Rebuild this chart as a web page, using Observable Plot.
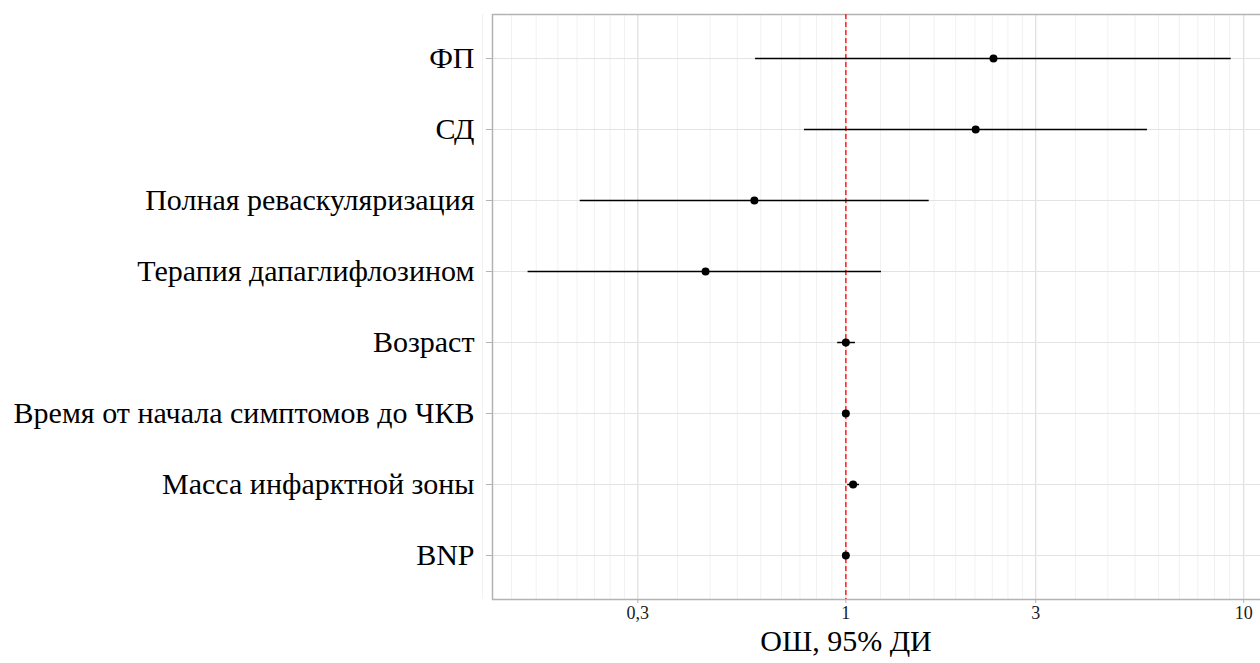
<!DOCTYPE html>
<html>
<head>
<meta charset="utf-8">
<script src="https://cdn.jsdelivr.net/npm/d3@7"></script>
<script src="https://cdn.jsdelivr.net/npm/@observablehq/plot@0.6"></script>
<style>
  html, body { margin: 0; padding: 0; background: #fff; overflow: hidden; width: 1260px; height: 663px; }
  #chart { position: relative; width: 1260px; height: 663px; overflow: hidden; }
  #chart svg { max-width: none !important; display: block; }
  #xtitle { position: absolute; left: 846px; top: 625px; transform: translateX(-50%); font-family: "Liberation Serif", "Times New Roman", serif; font-size: 30px; line-height: 32px; color: #000; white-space: nowrap; }
</style>
</head>
<body>
<div id="chart"><div id="xtitle">ОШ, 95% ДИ</div></div>
<script>
const names = ["ФП", "СД", "Полная реваскуляризация", "Терапия дапаглифлозином", "Возраст", "Время от начала симптомов до ЧКВ", "Масса инфарктной зоны", "BNP"];
const orValues = [2.35, 2.12, 0.589, 0.444, 1.0, 1.0, 1.043, 1.0];
const ciLow    = [0.593, 0.787, 0.215, 0.159, 0.954, 0.997, 1.011, 0.998];
const ciHigh   = [9.30, 5.73, 1.62, 1.229, 1.057, 1.003, 1.082, 1.002];
const majorTicks = [0.3, 1, 3, 10];
const breakBase = [0.1, 0.3, 1, 3, 10];
const refValue = [1];

const rows = names.map((n, i) => ({name: n, or: orValues[i], lo: ciLow[i], hi: ciHigh[i]}));
const minorTicks = [];
for (let k = 0; k < breakBase.length - 1; k++) {
  const a = breakBase[k], b = breakBase[k + 1];
  for (let j = 1; j <= 8; j++) minorTicks.push(a + (b - a) * j / 9);
}

const fmt = d => String(d).replace(".", ",");
const W = 1266;
const chart = Plot.plot({
  width: W,
  height: 624,
  marginLeft: 492,
  marginRight: 0,
  marginTop: 14,
  marginBottom: 25,
  style: {fontFamily: "'Liberation Serif', 'Times New Roman', serif", color: "#000", background: "#fff", overflow: "visible", maxWidth: "none"},
  x: {type: "log", domain: [0.1294, 11.41], range: [492, W], label: null},
  y: {type: "point", domain: names, padding: 0.6, label: null},
  marks: [
    Plot.gridX(minorTicks, {stroke: "#f1f1f1", strokeOpacity: 1, strokeWidth: 1}),
    Plot.gridX(majorTicks, {stroke: "#dedede", strokeOpacity: 1, strokeWidth: 1.2}),
    Plot.gridY(names, {stroke: "#e3e3e3", strokeOpacity: 1, strokeWidth: 1.2}),
    Plot.frame({stroke: "#b3b3b3", strokeWidth: 1.5}),
    Plot.axisX(majorTicks, {tickFormat: fmt, tickSize: 4, tickPadding: 3, stroke: "#b3b3b3", fontSize: 18, fill: "#1a1a1a", label: null}),
    Plot.axisY(names, {tickSize: 6, tickPadding: 12, stroke: "#b3b3b3", fontSize: 30, fill: "#000", label: null}),
    Plot.ruleX(refValue, {stroke: "#ff2a2a", strokeWidth: 1.6, strokeDasharray: "5,3"}),
    Plot.ruleY(rows, {y: "name", x1: "lo", x2: "hi", stroke: "#000", strokeWidth: 1.5}),
    Plot.dot(rows, {y: "name", x: "or", r: 4, fill: "#000", stroke: "none"})
  ]
});
document.getElementById("chart").prepend(chart);
</script>
</body>
</html>
